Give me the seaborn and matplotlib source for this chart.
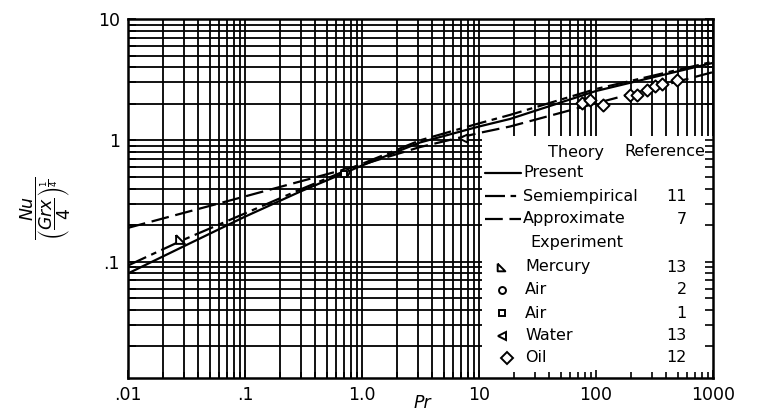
import numpy as np
import pandas as pd
import matplotlib
matplotlib.use('Agg')
import matplotlib.pyplot as plt
import seaborn as sns
from matplotlib.lines import Line2D
from matplotlib.patches import Rectangle
from matplotlib.path import Path

# ---------------- data ----------------
pr_present = [0.01, 0.03, 0.1, 0.3, 1, 3.13, 10, 18.4, 100, 1000]
nu_present = [0.08, 0.134, 0.235, 0.38, 0.62, 0.96, 1.3, 1.5, 2.55, 4.35]

pr_semi = [0.01, 0.03, 0.1, 0.3, 1, 3.13, 10, 18.4, 100, 1000]
nu_semi = [0.093, 0.152, 0.25, 0.395, 0.64, 1.0, 1.38, 1.62, 2.65, 4.45]

pr_approx = [0.01, 0.1, 1, 3.13, 10, 18.4, 100, 1000]
nu_approx = [0.19, 0.345, 0.63, 0.88, 1.15, 1.3, 2.02, 3.65]

pr_mercury = [0.028]
nu_mercury = [0.154]
pr_air2 = [0.72]
nu_air2 = [0.55]
pr_air1 = [0.70]
nu_air1 = [0.53]
pr_water = [7.35]
nu_water = [1.05]
pr_oil = [75.5, 89, 115, 195, 223, 271, 319, 364, 490]
nu_oil = [2.04, 2.17, 1.97, 2.38, 2.38, 2.62, 2.79, 2.90, 3.16]

x_ticks = [0.01, 0.1, 1, 10, 100, 1000]
x_ticklabels = ['.01', '.1', '1.0', '10', '100', '1000']
y_ticks = [0.1, 1, 10]
y_ticklabels = ['.1', '1', '10']

theory_names = ['Present', 'Semiempirical', 'Approximate']
theory_refs = ['', '11', '7']
exp_names = ['Mercury', 'Air', 'Air', 'Water', 'Oil']
exp_refs = ['13', '2', '1', '13', '12']

# ---------------- style ----------------
sns.set_style('ticks')
plt.rcParams['font.family'] = ['DejaVu Sans']
plt.rcParams['mathtext.fontset'] = 'dejavusans'
plt.rcParams['text.color'] = 'black'
plt.rcParams['xtick.color'] = 'black'
plt.rcParams['ytick.color'] = 'black'
plt.rcParams['axes.labelcolor'] = 'black'

W, H = 758, 413
fig = plt.figure(figsize=(W / 100, H / 100), dpi=100)
L, R, T, B = 128, 713, 19, 378
ax = fig.add_axes([L / W, 1 - B / H, (R - L) / W, (B - T) / H])
ax.set_xscale('log')
ax.set_yscale('log')
ax.set_xlim(0.01, 1000)
ax.set_ylim(0.011, 10)

def px(x, y):
    return x / W, 1 - y / H

# manual graph-paper grid
gl = 1.3
for dec in range(-2, 3):
    for k in range(1, 10):
        ax.axvline(k * 10.0 ** dec, color='black', lw=gl, zorder=1)
ax.axvline(1000, color='black', lw=gl, zorder=1)
for dec in range(-2, 1):
    for k in range(1, 10):
        v = k * 10.0 ** dec
        if v > 0.011:
            ax.axhline(v, color='black', lw=gl, zorder=1)
ax.axhline(10, color='black', lw=gl, zorder=1)

# white legend panel
ax.add_patch(Rectangle((10.6, 0.0105), 1000 - 10.6, 1.08 - 0.0105,
                       facecolor='white', edgecolor='none', zorder=2))

# theory curves
lw = 1.6
df_p = pd.DataFrame({'Pr': pr_present, 'Nu': nu_present})
df_s = pd.DataFrame({'Pr': pr_semi, 'Nu': nu_semi})
df_a = pd.DataFrame({'Pr': pr_approx, 'Nu': nu_approx})
ls_semi = (0, (9, 2.5, 2.5, 2.5))
ls_appr = (0, (8, 3))
sns.lineplot(data=df_p, x='Pr', y='Nu', ax=ax, color='black', lw=lw, zorder=3,
             estimator=None, sort=False)
sns.lineplot(data=df_s, x='Pr', y='Nu', ax=ax, color='black', lw=lw, zorder=3,
             linestyle=ls_semi, estimator=None, sort=False)
sns.lineplot(data=df_a, x='Pr', y='Nu', ax=ax, color='black', lw=lw, zorder=3,
             linestyle=ls_appr, estimator=None, sort=False)

# experiment markers
merc_marker = [(-1, 1), (-1, -1), (1, -1), (-1, 1)]
mkw = dict(facecolor='white', edgecolor='black', linewidth=1.4, zorder=4, ax=ax)
sns.scatterplot(x=pr_mercury, y=nu_mercury, marker=merc_marker, s=40, **mkw)
sns.scatterplot(x=pr_air2, y=nu_air2, marker='o', s=30, **mkw)
sns.scatterplot(x=pr_air1, y=nu_air1, marker='s', s=25, **mkw)
sns.scatterplot(x=pr_water, y=nu_water, marker='<', s=35, **mkw)
sns.scatterplot(x=pr_oil, y=nu_oil, marker='D', s=38, **mkw)

ax.set_xlabel('')
ax.set_ylabel('')

# axes / ticks
for s in ax.spines.values():
    s.set_linewidth(1.8)
    s.set_color('black')
ax.set_axisbelow(False)
ax.set_xticks(x_ticks)
ax.set_xticklabels(x_ticklabels)
ax.set_yticks(y_ticks)
ax.set_yticklabels(y_ticklabels)
ax.tick_params(which='both', direction='in', right=True, top=False,
               color='black', labelcolor='black', width=1.2)
ax.tick_params(which='major', length=6, labelsize=12.5, pad=6)
ax.tick_params(which='minor', length=4)
ax.tick_params(axis='y', which='minor', length=6)

# axis labels
fig.text(*px(422, 403), 'Pr', style='italic', fontsize=12.5,
         ha='center', va='center', color='black')
fig.text(*px(46, 208),
         r'$\dfrac{Nu}{\left(\dfrac{Grx}{4}\right)^{\frac{1}{4}}}$',
         rotation=90, fontsize=12.5, ha='center', va='center', color='black')

# legend content
fs = 11.5
fig.text(*px(576, 153), 'Theory', fontsize=fs, ha='center', va='center')
fig.text(*px(705, 152), 'Reference', fontsize=fs, ha='right', va='center')
rows_t = [173, 196, 219]
styles = ['-', ls_semi, ls_appr]
for yy, nm, rf, st in zip(rows_t, theory_names, theory_refs, styles):
    x0, y0 = px(485, yy)
    x1, _ = px(521, yy)
    fig.add_artist(Line2D([x0, x1], [y0, y0], color='black', lw=lw,
                          linestyle=st, transform=fig.transFigure))
    fig.text(*px(523, yy), nm, fontsize=fs, ha='left', va='center')
    if rf:
        fig.text(*px(687, yy), rf, fontsize=fs, ha='right', va='center')
fig.text(*px(577, 243), 'Experiment', fontsize=fs, ha='center', va='center')

rows_e = [267, 290, 313, 336, 358]
mk = [Path(merc_marker), 'o', 's', '<', 'D']
msz = [5.5, 5, 5, 6, 6]
mx = [501, 502, 502, 502, 507]
for yy, nm, rf, m, sz, xx in zip(rows_e, exp_names, exp_refs, mk, msz, mx):
    x0, y0 = px(xx, yy)
    fig.add_artist(Line2D([x0], [y0], marker=m, markersize=sz, color='black',
                          markerfacecolor='white', markeredgewidth=1.4,
                          linestyle='none', transform=fig.transFigure))
    fig.text(*px(525, yy), nm, fontsize=fs, ha='left', va='center')
    fig.text(*px(687, yy), rf, fontsize=fs, ha='right', va='center')

fig.savefig('out.png', dpi=100, facecolor='white')
